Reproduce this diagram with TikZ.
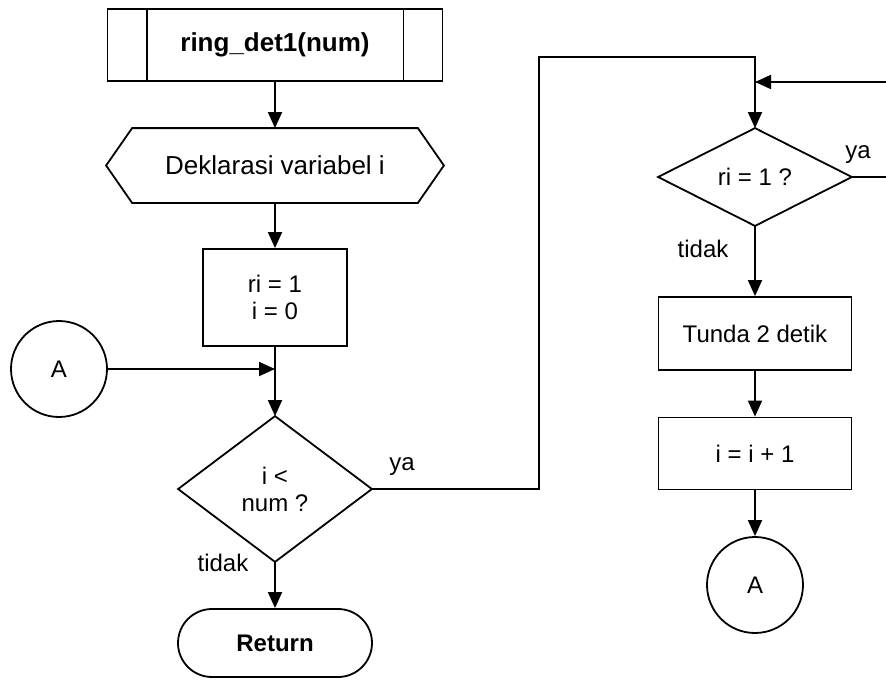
\documentclass[tikz,border=0pt]{standalone}
\usepackage{fontspec}
\setmainfont{Liberation Sans}
\usetikzlibrary{arrows.meta,calc}
\begin{document}
\begin{tikzpicture}[x=1pt,y=-1pt, line width=1.8pt,
  every node/.style={font=\fontsize{24}{27}\selectfont},
  box/.style={draw, rectangle, inner sep=0pt, align=center},
  ghost/.style={rectangle, inner sep=0pt, align=center},
  conn/.style={-{Triangle[length=16pt,width=14pt]}},
  lbl/.style={inner sep=0pt},
  circ/.style={draw, circle, minimum size=96pt, inner sep=0pt}]
\useasboundingbox (0,0) rectangle (886,681);

% predefined process
\node[box, minimum width=335pt, minimum height=72pt, font=\fontsize{26}{28}\selectfont\bfseries] (proc) at (275,45) {ring\_det1(num)};
\draw ($(proc.north west)+(40,0)$) -- ($(proc.south west)+(40,0)$);
\draw ($(proc.north east)+(-40,0)$) -- ($(proc.south east)+(-40,0)$);

% preparation (hexagon)
\node[ghost, minimum width=336pt, minimum height=73pt, font=\fontsize{26}{28}\selectfont] (prep) at (275,165.5) {Deklarasi variabel i};
\draw ($(prep.north west)+(26,0)$) -- ($(prep.north east)+(-26,0)$) -- (prep.east) -- ($(prep.south east)+(-26,0)$) -- ($(prep.south west)+(26,0)$) -- (prep.west) -- cycle;

% init box
\node[box, minimum width=144pt, minimum height=97pt] (init) at (275,297.5) {ri = 1\\i = 0};

% connector A (left)
\node[circ] (a1) at (59,369) {A};
\coordinate (j1) at (275,369);

% decision 1
\node[ghost, minimum width=192pt, minimum height=144pt] (dec1) at (275,489) {i <\\num ?};
\draw (dec1.north) -- (dec1.east) -- (dec1.south) -- (dec1.west) -- cycle;

% return
\node[box, rounded corners=34pt, minimum width=194pt, minimum height=68pt, font=\fontsize{24}{27}\selectfont\bfseries] (ret) at (275,643) {Return};

% decision 2
\node[ghost, minimum width=192pt, minimum height=96pt] (dec2) at (755,177) {ri = 1 ?};
\draw (dec2.north) -- (dec2.east) -- (dec2.south) -- (dec2.west) -- cycle;

% right column
\node[box, minimum width=193pt, minimum height=73pt] (tunda) at (755,333.5) {Tunda 2 detik};
\node[box, minimum width=193pt, minimum height=72pt] (inc) at (755,453.5) {i = i + 1};
\node[circ] (a2) at (755,585) {A};

% labels
\node[lbl] (ya1) at (402,467) {ya};
\node[lbl] (td1) at (223,563) {tidak};
\node[lbl] (ya2) at (858,155) {ya};
\node[lbl] (td2) at (703,249) {tidak};

% connectors
\draw[conn] (proc.south) -- (prep.north);
\draw[conn] (prep.south) -- (init.north);
\draw[conn] (init.south) -- (dec1.north);
\draw[conn] (a1.east) -- (j1);
\draw[conn] (dec1.south) -- (ret.north);

\coordinate (c1) at (539,57);
\draw[conn] (dec1.east) -| (c1) -| (dec2.north);

\coordinate (c2) at (892,82);
\coordinate (c3) at (755,82);
\draw[conn] (dec2.east) -| (c2) -- (c3);

\draw[conn] (dec2.south) -- (tunda.north);
\draw[conn] (tunda.south) -- (inc.north);
\draw[conn] (inc.south) -- (a2.north);
\end{tikzpicture}
\end{document}
